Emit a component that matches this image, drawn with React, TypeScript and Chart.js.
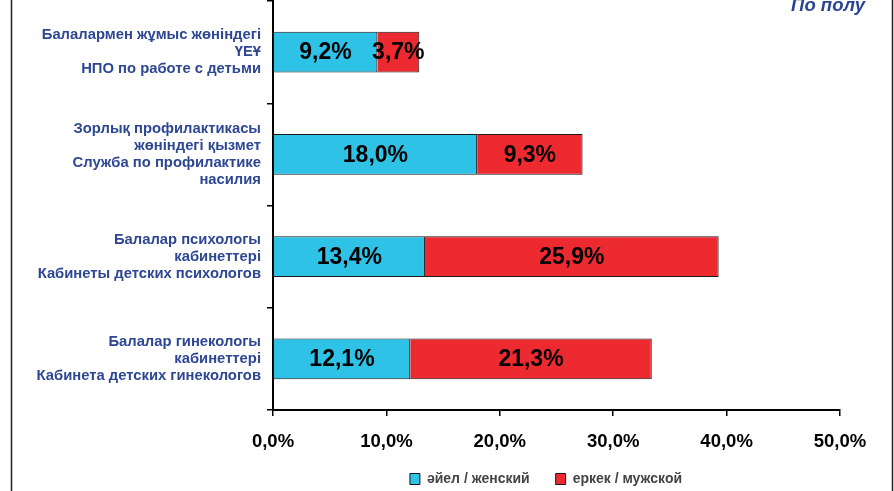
import React, { useEffect, useRef } from "react";
import { Chart, registerables } from "chart.js";

Chart.register(...registerables);

const categories: string[][] = [
  ["Балалармен жұмыс жөніндегі", "ҮЕҰ", "НПО по работе с детьми"],
  ["Зорлық профилактикасы", "жөніндегі қызмет", "Служба по профилактике", "насилия"],
  ["Балалар психологы", "кабинеттері", "Кабинеты детских психологов"],
  ["Балалар гинекологы", "кабинеттері", "Кабинета детских гинекологов"],
];
const femaleValues = [9.2, 18.0, 13.4, 12.1];
const maleValues = [3.7, 9.3, 25.9, 21.3];
const seriesNames = ["әйел / женский", "еркек / мужской"];
const xTicks = [0, 10, 20, 30, 40, 50];
const titleText = "По полу";

const FONT = "'Liberation Sans', Arial, sans-serif";
const fmt = (v: number) => v.toFixed(1).replace(".", ",") + "%";

const decorPlugin = {
  id: "decor",
  afterLayout(chart: any) {
    const lg = chart.legend;
    if (lg) {
      const d = 126;
      lg.left += d;
      lg.right += d;
      const h = lg.bottom - lg.top;
      lg.top = 446;
      lg.bottom = 446 + h;
    }
  },
  beforeDraw(chart: any) {
    const ctx = chart.ctx;
    ctx.save();
    ctx.strokeStyle = "#222";
    ctx.lineWidth = 1.5;
    ctx.beginPath();
    ctx.moveTo(11.5, 0);
    ctx.lineTo(11.5, chart.height);
    ctx.moveTo(892.5, 0);
    ctx.lineTo(892.5, chart.height);
    ctx.stroke();
    ctx.fillStyle = "#2a4494";
    ctx.font = `italic bold 18.5px ${FONT}`;
    ctx.textAlign = "right";
    ctx.textBaseline = "alphabetic";
    ctx.fillText(titleText, 865, 11);
    ctx.restore();
  },
  afterDatasetsDraw(chart: any) {
    const ctx = chart.ctx;
    ctx.save();
    ctx.fillStyle = "#000";
    ctx.font = `bold 23px ${FONT}`;
    ctx.textAlign = "center";
    ctx.textBaseline = "middle";
    chart.data.datasets.forEach((ds: any, di: number) => {
      const meta = chart.getDatasetMeta(di);
      meta.data.forEach((bar: any, i: number) => {
        const p = bar.getProps(["x", "y", "base"], true);
        const cx = (p.x + p.base) / 2;
        ctx.fillText(fmt(ds.data[i]), cx, p.y + 1);
      });
    });
    ctx.restore();
  },
};

export default function App() {
  const ref = useRef<HTMLCanvasElement>(null);
  useEffect(() => {
    if (!ref.current) return;
    const chart = new Chart(ref.current, {
      type: "bar",
      data: {
        labels: categories,
        datasets: [
          {
            label: seriesNames[0],
            data: femaleValues,
            backgroundColor: "#2ec3e6",
            borderColor: "#1a1a1a",
            borderWidth: 1,
            categoryPercentage: 1,
            barPercentage: 0.4,
          },
          {
            label: seriesNames[1],
            data: maleValues,
            backgroundColor: "#ee2a31",
            borderColor: "#1a1a1a",
            borderWidth: 1,
            categoryPercentage: 1,
            barPercentage: 0.4,
          },
        ],
      },
      options: {
        indexAxis: "y",
        responsive: false,
        animation: false,
        devicePixelRatio: 1,
        layout: { padding: { top: 1, right: 54, left: 0, bottom: 0 } },
        plugins: {
          tooltip: { enabled: false },
          legend: {
            position: "bottom",
            maxHeight: 40,
            labels: {
              boxWidth: 10,
              boxHeight: 11,
              padding: 26,
              color: "#444",
              font: { family: FONT, size: 14, weight: "bold" },
            },
          },
        },
        scales: {
          x: {
            stacked: true,
            min: 0,
            max: 50,
            afterBuildTicks: (scale: any) => {
              scale.ticks = xTicks.map((v) => ({ value: v }));
            },
            afterFit: (scale: any) => {
              scale.height = 41;
            },
            ticks: {
              color: "#000",
              padding: 15,
              font: { family: FONT, size: 18.5, weight: "bold" },
              callback: (v: any) => fmt(Number(v)),
            },
            grid: {
              drawOnChartArea: false,
              drawTicks: true,
              tickLength: 6,
              color: "#000",
              lineWidth: 1.5,
            },
            border: { display: true, color: "#000", width: 2 },
          },
          y: {
            stacked: true,
            afterFit: (scale: any) => {
              scale.width = 273;
              scale.paddingTop = 0;
              scale.paddingBottom = 0;
            },
            ticks: {
              color: "#2e4793",
              padding: 6,
              font: { family: FONT, size: 14.8, weight: "bold", lineHeight: 1.15 },
            },
            grid: {
              drawOnChartArea: false,
              drawTicks: true,
              tickLength: 6,
              color: "#000",
              lineWidth: 1.5,
            },
            border: { display: true, color: "#000", width: 2 },
          },
        },
      },
      plugins: [decorPlugin],
    } as any);
    return () => chart.destroy();
  }, []);
  return (
    <div style={{ position: "fixed", left: 0, top: 0, width: 894, height: 491, background: "#fff" }}>
      <canvas ref={ref} width={894} height={491} />
    </div>
  );
}
